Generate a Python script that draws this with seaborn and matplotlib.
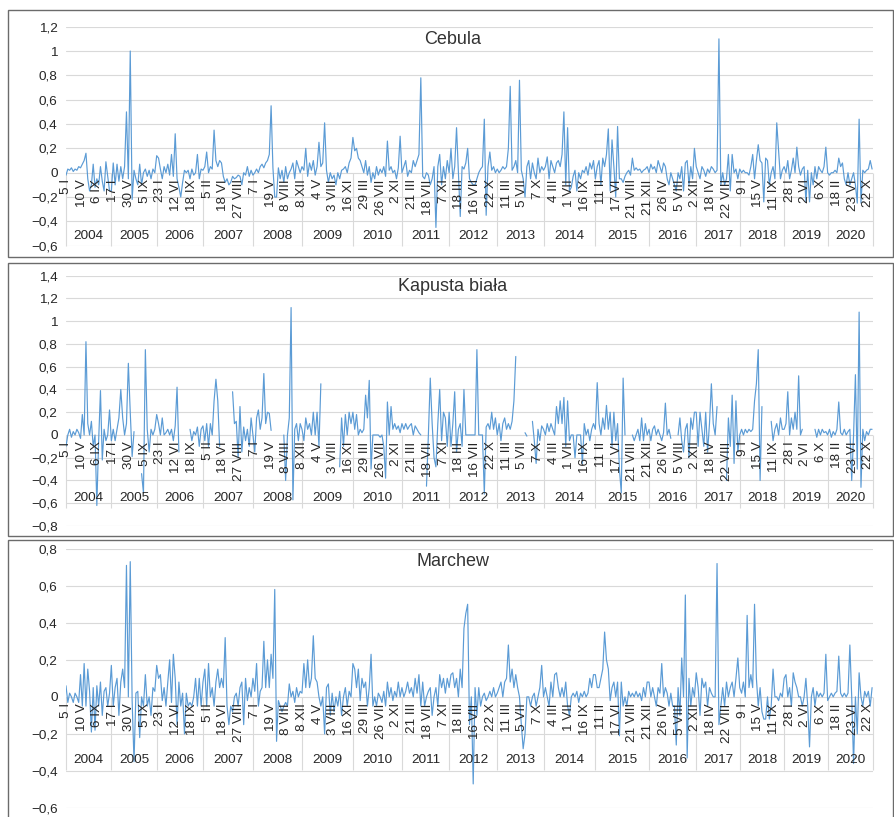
import numpy as np
import pandas as pd
import matplotlib
matplotlib.use("Agg")
import matplotlib.pyplot as plt
import seaborn as sns
from matplotlib.patches import Rectangle

sns.set_theme(style="white")
plt.rcParams['font.family'] = ['Liberation Sans', 'DejaVu Sans']

# ---------------- data ----------------
years = list(range(2004, 2021))
# category index where each year starts (weekly observations), last = total count
year_bounds = [0, 49, 98, 148, 202, 255, 310, 363, 414, 466, 516, 572, 630, 681, 728, 776, 823, 873]
label_step = 17
date_labels = ["5 I", "10 V", "6 IX", "17 I", "30 V", "5 IX", "23 I", "12 VI", "18 IX", "5 II",
               "18 VI", "27 VIII", "7 I", "19 V", "8 VIII", "8 XII", "4 V", "3 VIII", "16 XI",
               "29 III", "26 VII", "2 XI", "21 III", "18 VII", "7 XI", "18 III", "16 VII", "22 X",
               "11 III", "5 VII", "7 X", "4 III", "1 VII", "16 IX", "11 II", "17 VI", "21 VIII",
               "21 XII", "26 IV", "5 VIII", "2 XII", "18 IV", "22 VIII", "9 I", "15 V", "11 IX",
               "28 I", "2 VI", "6 X", "18 II", "23 VI", "22 X"]

cebula = [
    [-0.02, 0.03, 0.02, 0.04, 0.01, 0.03, 0.02, 0.05, 0.04, 0.07, 0.1, 0.16, -0.05, -0.15, -0.1, 0.07, -0.12, -0.05, -0.1, 0.05, -0.07, -0.15, 0.09, -0.03, -0.15],
    [-0.15, 0.08, -0.1, 0.07, -0.07, 0.05, -0.05, 0.05, 0.5, -0.05, 1.0, -0.22, 0.02, -0.05, -0.1, 0.07, -0.1, 0.0, 0.03, -0.03, 0.02, -0.05, 0.03, 0.0],
    [0.14, 0.12, 0.03, -0.05, 0.05, 0.0, 0.07, -0.02, 0.15, -0.03, 0.32, -0.05, -0.12, -0.2, -0.08, 0.02, 0.0, 0.02, -0.05, 0.03, -0.02, 0.0, 0.15, -0.05, 0.03],
    [0.02, 0.05, 0.17, 0.0, 0.05, 0.03, 0.35, 0.1, 0.05, 0.1, 0.08, -0.03, -0.08, -0.05, -0.1, -0.08, -0.03, -0.05, -0.04, -0.02, -0.03, -0.1, 0.0, -0.02, 0.05, -0.03, 0.02],
    [-0.02, 0.0, 0.03, 0.0, 0.05, 0.07, 0.04, 0.08, 0.1, 0.15, 0.55, 0.04, -0.2, -0.2, 0.04, -0.05, 0.02, -0.08, 0.05, -0.05, 0.0, 0.03, 0.08, -0.05, 0.1, 0.05, 0.0],
    [0.05, 0.02, 0.2, -0.03, 0.08, 0.02, 0.1, -0.02, 0.05, 0.25, 0.05, 0.08, 0.41, 0.02, -0.08, 0.0, -0.05, -0.02, -0.1, 0.0, -0.05, 0.02, 0.03, 0.05, 0.0, 0.08, 0.12],
    [0.29, 0.18, 0.2, 0.12, 0.1, 0.05, 0.0, 0.1, -0.02, 0.05, -0.08, 0.0, -0.05, 0.05, -0.02, 0.03, 0.0, 0.05, -0.03, 0.26, 0.02, 0.05, 0.0, 0.02, -0.05, 0.04, 0.3],
    [0.0, 0.05, 0.1, -0.03, 0.02, 0.0, 0.1, 0.05, 0.1, 0.15, 0.78, -0.03, -0.05, 0.0, -0.02, -0.1, -0.05, 0.05, -0.45, 0.05, 0.15, -0.1, 0.05, -0.05, 0.1],
    [0.0, 0.2, -0.05, 0.05, 0.37, 0.0, -0.36, 0.05, 0.03, 0.08, 0.2, -0.05, -0.08, -0.1, -0.1, -0.05, 0.0, 0.03, 0.05, 0.44, -0.35, 0.05, 0.17, 0.02, 0.05, 0.0],
    [0.03, 0.0, 0.02, 0.05, 0.03, 0.05, 0.2, 0.71, 0.02, 0.05, 0.1, 0.0, 0.76, 0.02, -0.05, -0.2, 0.05, 0.1, -0.05, 0.08, 0.0, -0.05, 0.12, 0.0, 0.05],
    [0.02, 0.05, 0.13, -0.05, 0.1, 0.05, 0.0, 0.08, 0.1, 0.05, 0.15, 0.5, -0.1, 0.37, -0.15, -0.12, -0.03, 0.02, -0.15, 0.0, -0.05, 0.02, 0.0, 0.05, -0.02, 0.08, 0.03, 0.1],
    [-0.05, 0.05, 0.1, -0.1, 0.12, 0.05, 0.15, 0.36, -0.15, 0.27, 0.05, -0.2, 0.38, -0.05, -0.05, -0.08, -0.03, 0.0, 0.02, -0.02, 0.12, 0.02, 0.04, 0.02, 0.03, 0.0, 0.02, 0.03, 0.05],
    [0.0, 0.07, 0.03, 0.05, 0.0, 0.1, 0.05, 0.0, 0.08, 0.05, -0.05, -0.1, 0.0, -0.05, -0.1, -0.15, 0.0, -0.05, 0.05, -0.15, 0.08, 0.1, -0.1, 0.05, -0.05, 0.2],
    [0.05, 0.0, -0.05, 0.05, 0.02, -0.03, 0.03, 0.0, 0.05, 0.03, 0.0, 0.02, 1.1, -0.1, 0.0, -0.1, -0.05, 0.15, -0.15, 0.15, 0.0, 0.03, -0.05],
    [0.03, 0.0, 0.02, 0.0, 0.0, -0.02, 0.05, 0.15, -0.05, 0.1, 0.23, 0.1, 0.08, -0.24, 0.12, 0.1, -0.1, 0.0, 0.05, -0.05, 0.41, 0.18, -0.05, 0.02],
    [0.05, 0.0, 0.1, -0.05, 0.02, 0.12, 0.0, 0.21, 0.05, -0.02, 0.03, 0.05, -0.24, 0.02, -0.24, 0.0, -0.1, 0.05, -0.05, 0.05, 0.02, 0.0, 0.05, 0.21],
    [0.0, -0.02, 0.0, 0.0, 0.02, 0.0, 0.12, 0.05, 0.08, -0.05, -0.1, 0.0, -0.1, -0.05, 0.0, -0.1, -0.25, 0.44, -0.25, 0.02, 0.0, 0.02, 0.03, 0.1, 0.03],
]

kapusta = [
    [-0.1, 0.0, 0.05, -0.02, 0.03, 0.0, 0.05, 0.02, -0.03, 0.18, 0.0, 0.82, 0.1, 0.0, 0.12, -0.1, 0.0, -0.62, -0.05, 0.39, -0.22, 0.05, -0.05, 0.0, 0.22],
    [-0.05, 0.05, -0.05, 0.05, 0.15, 0.4, 0.15, 0.0, 0.1, 0.63, 0.2, -0.19, 0.03, None, None, None, -0.34, -0.51, 0.75, 0.05, -0.15, 0.05, 0.0, 0.05],
    [0.18, 0.1, 0.0, 0.15, 0.0, 0.02, 0.05, 0.0, 0.05, -0.05, 0.08, 0.42, -0.15, None, None, None, None, None, 0.05, -0.05, 0.03, 0.0, 0.07, -0.1, 0.05],
    [0.08, -0.05, 0.1, -0.1, 0.1, 0.0, 0.3, 0.49, 0.3, -0.1, None, None, None, None, None, None, 0.38, 0.1, 0.12, -0.2, 0.25, -0.15, 0.07, -0.05, 0.05, -0.1, 0.15],
    [0.0, -0.15, 0.15, 0.22, 0.05, 0.15, 0.54, 0.1, 0.2, 0.19, 0.04, None, None, None, None, None, None, 0.0, -0.4, 0.0, 0.15, 1.12, -0.57, 0.05, 0.1, -0.05, 0.1],
    [0.05, -0.05, 0.15, 0.05, 0.1, 0.0, 0.2, 0.0, 0.2, -0.1, 0.45, None, None, None, None, None, None, None, None, None, -0.28, 0.15, -0.1, 0.18, 0.0, 0.2, 0.1],
    [0.2, 0.05, 0.18, 0.0, 0.05, 0.02, 0.05, 0.35, 0.15, 0.48, -0.3, 0.0, 0.0, 0.0, 0.0, -0.02, 0.0, -0.1, -0.38, 0.29, 0.0, 0.25, 0.05, 0.1, 0.05, 0.08, 0.02],
    [0.1, 0.05, 0.1, 0.05, 0.08, 0.1, 0.0, 0.08, 0.05, 0.02, 0.0, None, None, -0.45, 0.0, 0.5, 0.1, -0.2, -0.28, 0.1, 0.4, -0.05, 0.2, 0.15, -0.1],
    [0.2, -0.1, 0.1, 0.38, -0.15, 0.05, 0.1, -0.1, 0.4, 0.0, 0.0, 0.0, 0.0, 0.0, 0.0, 0.75, 0.0, 0.0, 0.0, -0.52, 0.07, 0.1, 0.05, 0.2, 0.05, 0.15],
    [0.0, 0.1, -0.05, 0.1, 0.15, 0.05, 0.1, 0.05, 0.12, 0.3, 0.69, None, None, None, None, 0.02, -0.01, None, None, 0.12, -0.05, -0.25, 0.05, -0.05, 0.08],
    [0.05, 0.0, 0.1, 0.03, 0.1, 0.05, 0.0, 0.25, 0.1, 0.3, 0.1, 0.33, -0.1, 0.3, -0.05, 0.0, 0.0, -0.2, 0.0, 0.0, 0.0, -0.25, 0.1, 0.0, 0.05, -0.05, 0.05, 0.1],
    [0.05, 0.46, 0.1, 0.0, 0.15, 0.05, 0.26, 0.05, 0.2, -0.1, 0.2, -0.05, 0.1, -0.3, -0.51, 0.5, 0.0, None, None, None, 0.0, -0.05, 0.0, 0.05, -0.05, 0.15, -0.05, 0.1, 0.0],
    [0.05, -0.05, 0.05, 0.08, 0.0, 0.05, 0.0, -0.05, 0.02, 0.28, 0.0, 0.05, -0.03, None, None, None, 0.0, 0.15, -0.05, -0.15, 0.05, 0.1, -0.2, 0.15, 0.05, 0.2],
    [0.2, -0.1, 0.2, 0.05, -0.1, 0.2, -0.15, 0.1, 0.45, 0.1, 0.0, 0.25, None, None, None, None, -0.4, 0.15, -0.1, 0.35, -0.25, 0.3, -0.15],
    [0.0, 0.05, 0.0, 0.05, 0.02, 0.05, 0.03, 0.05, 0.3, 0.45, 0.75, -0.4, 0.25, None, None, None, None, 0.12, -0.05, 0.05, 0.1, 0.0, 0.15, 0.05],
    [0.05, 0.1, 0.38, 0.0, 0.15, 0.05, 0.2, 0.05, 0.52, 0.0, 0.05, None, None, None, None, None, None, 0.05, -0.02, 0.05, 0.0, 0.05, 0.02, 0.03],
    [0.0, 0.05, -0.02, 0.03, 0.0, 0.05, 0.29, 0.02, 0.0, 0.05, 0.0, 0.03, 0.05, -0.4, 0.0, 0.53, -0.3, 1.08, -0.46, 0.05, -0.05, 0.03, 0.0, 0.05, 0.05],
]

marchew = [
    [0.06, -0.03, 0.02, 0.0, -0.03, 0.02, 0.0, -0.03, 0.12, -0.05, 0.18, -0.05, 0.15, 0.03, -0.19, 0.05, -0.18, 0.06, -0.05, 0.08, -0.1, 0.03, 0.05, -0.05, 0.02],
    [0.17, -0.05, 0.05, 0.1, -0.1, 0.08, 0.15, 0.05, 0.71, 0.0, 0.73, -0.02, -0.35, 0.02, 0.03, -0.22, 0.0, -0.05, 0.12, -0.05, 0.0, -0.1, 0.05, 0.03],
    [0.17, 0.1, 0.12, -0.02, 0.05, -0.05, 0.08, 0.2, -0.03, 0.23, 0.1, -0.15, 0.08, -0.05, 0.02, -0.2, 0.02, -0.05, -0.03, -0.05, 0.0, 0.1, -0.05, 0.1, -0.05],
    [0.08, 0.15, -0.05, 0.18, 0.0, 0.05, -0.05, 0.08, 0.15, 0.05, 0.1, 0.05, 0.32, -0.05, -0.15, -0.05, -0.08, 0.0, 0.02, -0.05, 0.05, 0.08, -0.15, 0.1, -0.02, 0.05, 0.0],
    [0.1, 0.03, 0.18, -0.05, 0.03, 0.05, 0.3, 0.05, 0.2, 0.05, 0.23, 0.1, 0.58, -0.24, -0.02, -0.05, -0.08, -0.05, -0.03, -0.05, 0.07, 0.0, 0.03, -0.03, 0.05, 0.0, 0.03],
    [0.02, 0.18, 0.05, 0.2, 0.05, 0.1, 0.33, 0.1, 0.08, 0.0, -0.05, 0.0, -0.2, 0.05, 0.07, -0.1, 0.02, -0.08, 0.0, -0.05, 0.03, -0.1, 0.0, 0.05, -0.05, 0.03, 0.0],
    [0.18, 0.15, 0.05, 0.15, -0.02, 0.1, 0.05, 0.08, -0.05, 0.05, 0.23, -0.05, 0.0, -0.05, 0.02, 0.0, -0.03, 0.03, -0.05, 0.08, 0.0, 0.05, -0.02, 0.03, 0.0, 0.08, 0.0],
    [0.05, 0.0, 0.03, 0.08, 0.02, 0.05, 0.0, 0.1, 0.02, 0.12, -0.05, 0.08, -0.05, 0.0, 0.03, 0.05, -0.1, 0.0, 0.05, -0.05, 0.12, 0.05, 0.1, 0.02, 0.1],
    [0.05, 0.12, 0.13, 0.05, 0.1, 0.0, 0.15, 0.05, 0.37, 0.45, 0.5, -0.15, 0.0, -0.47, 0.05, -0.1, 0.05, -0.05, 0.0, 0.02, -0.02, 0.0, 0.03, 0.0, 0.05, 0.0],
    [0.02, 0.05, 0.08, 0.0, 0.08, 0.1, 0.28, 0.08, 0.15, 0.05, 0.12, 0.05, 0.0, -0.15, -0.28, -0.2, 0.0, 0.0, -0.05, 0.0, 0.02, -0.05, 0.0, 0.05, 0.17],
    [0.0, 0.05, 0.0, -0.05, 0.08, 0.0, 0.12, 0.13, 0.05, 0.0, 0.05, 0.0, 0.08, -0.05, -0.1, 0.0, 0.02, 0.0, 0.03, -0.03, 0.02, 0.0, 0.03, 0.0, 0.02, 0.1, 0.05, 0.12],
    [0.12, 0.05, 0.05, 0.1, 0.15, 0.35, 0.2, 0.15, -0.02, 0.05, 0.08, 0.0, 0.08, -0.21, 0.08, -0.05, 0.0, -0.05, 0.03, 0.0, 0.02, 0.0, 0.03, 0.0, 0.02, -0.02, 0.05, 0.0, 0.08],
    [0.08, 0.0, 0.05, 0.0, -0.05, 0.05, 0.02, 0.18, 0.0, 0.05, 0.02, -0.05, 0.02, -0.05, -0.05, -0.26, 0.05, -0.1, 0.21, 0.0, 0.55, -0.33, 0.1, -0.05, 0.05, 0.0],
    [0.13, 0.05, -0.1, 0.1, 0.05, 0.08, -0.05, 0.05, 0.02, 0.0, 0.0, 0.72, -0.15, -0.05, 0.05, -0.05, 0.08, 0.0, 0.05, 0.08, 0.0, 0.1, 0.21],
    [0.05, 0.02, 0.08, 0.0, 0.44, 0.05, 0.12, 0.05, 0.5, 0.1, -0.05, 0.05, -0.08, -0.12, -0.12, 0.0, -0.12, -0.05, 0.15, 0.0, 0.0, -0.02, 0.02, 0.0],
    [0.1, 0.12, 0.0, 0.05, -0.05, 0.13, 0.08, 0.05, 0.0, 0.0, -0.05, 0.0, 0.1, -0.05, -0.27, 0.0, 0.05, -0.05, 0.03, 0.0, 0.02, 0.0, 0.02, 0.23],
    [-0.02, 0.0, 0.02, 0.0, 0.02, 0.03, 0.22, 0.02, 0.0, 0.02, 0.0, 0.02, 0.28, 0.0, -0.36, 0.0, -0.2, 0.13, 0.0, -0.05, 0.03, 0.0, 0.03, -0.05, 0.05],
]

titles = ["Cebula", "Kapusta biała", "Marchew"]

# ---------------- helpers ----------------
W, H = 894, 817
LINE = "#5B9BD5"
GRID = "#D9D9D9"
TXT = "#262626"


def build(series):
    rows = []
    seg = 0
    for k, vals in enumerate(series):
        b0, b1 = year_bounds[k], year_bounds[k + 1]
        n = len(vals)
        for j, v in enumerate(vals):
            if v is None:
                seg += 1
                continue
            rows.append((b0 + (b1 - b0) * j / n, v, seg))
    return pd.DataFrame(rows, columns=["x", "v", "seg"])


def fmt(t):
    t = round(t, 1)
    if abs(t) < 1e-9:
        return "0"
    if abs(t - round(t)) < 1e-9:
        s = str(int(round(t)))
    else:
        s = f"{t:.1f}".replace(".", ",")
    return s.replace("-", "\u2212")


fig = plt.figure(figsize=(W / 100, H / 100), dpi=100)

panels = [
    dict(data=cebula, ylim=(-0.6, 1.2), top=26.7, bottom=245.7, box=(8, 10, 893, 257), ty=39),
    dict(data=kapusta, ylim=(-0.8, 1.4), top=275.7, bottom=526.0, box=(8, 262.5, 893, 536), ty=286.5),
    dict(data=marchew, ylim=(-0.6, 0.8), top=548.7, bottom=808.0, box=(8, 539.5, 893, 840), ty=562),
]

for p, title in zip(panels, titles):
    x0px, x1px = 66, 873
    ax = fig.add_axes([x0px / W, 1 - p["bottom"] / H, (x1px - x0px) / W, (p["bottom"] - p["top"]) / H])
    ymin, ymax = p["ylim"]
    ppu = (p["bottom"] - p["top"]) / (ymax - ymin)
    df = build(p["data"])
    sns.lineplot(data=df, x="x", y="v", units="seg", estimator=None, color=LINE,
                 linewidth=0.85, ax=ax, legend=False, sort=True)
    ax.set_xlim(0, year_bounds[-1] - 1)
    ax.set_ylim(ymin, ymax)
    ticks = np.round(np.arange(ymin, ymax + 0.001, 0.2), 1)
    ax.set_yticks(ticks)
    ax.set_yticklabels([fmt(t) for t in ticks])
    ax.set_xticks([])
    ax.set_xlabel("")
    ax.set_ylabel("")
    for s in ax.spines.values():
        s.set_visible(False)
    ax.grid(False)
    for t in ticks:
        ax.axhline(t, color=GRID, lw=0.8, zorder=0)
    ax.tick_params(axis="y", length=0, pad=6, labelsize=9.7, labelcolor=TXT)
    # category labels
    for j, lab in enumerate(date_labels):
        ax.text(j * label_step, -6.5 / ppu, lab, rotation=90, ha="center", va="top",
                fontsize=9.7, color=TXT, clip_on=False)
    for k, yr in enumerate(years):
        ax.text((year_bounds[k] + year_bounds[k + 1]) / 2, -63.5 / ppu, str(yr), ha="center",
                va="center", fontsize=9.7, color=TXT, clip_on=False)
    seps = list(year_bounds[:-1]) + [year_bounds[-1] - 1]
    ax.vlines(seps, -73 / ppu, 0, color=GRID, lw=0.8, zorder=0, clip_on=False)
    # panel title
    fig.text(453 / W, 1 - p["ty"] / H, title, ha="center", va="center", fontsize=13, color="#333333")
    # panel frame
    bx0, by0, bx1, by1 = p["box"]
    fig.add_artist(Rectangle((bx0 / W, 1 - by1 / H), (bx1 - bx0) / W, (by1 - by0) / H,
                             transform=fig.transFigure, fill=False, ec="#6b6b6b", lw=1.0))

fig.savefig("out.png", dpi=100)
